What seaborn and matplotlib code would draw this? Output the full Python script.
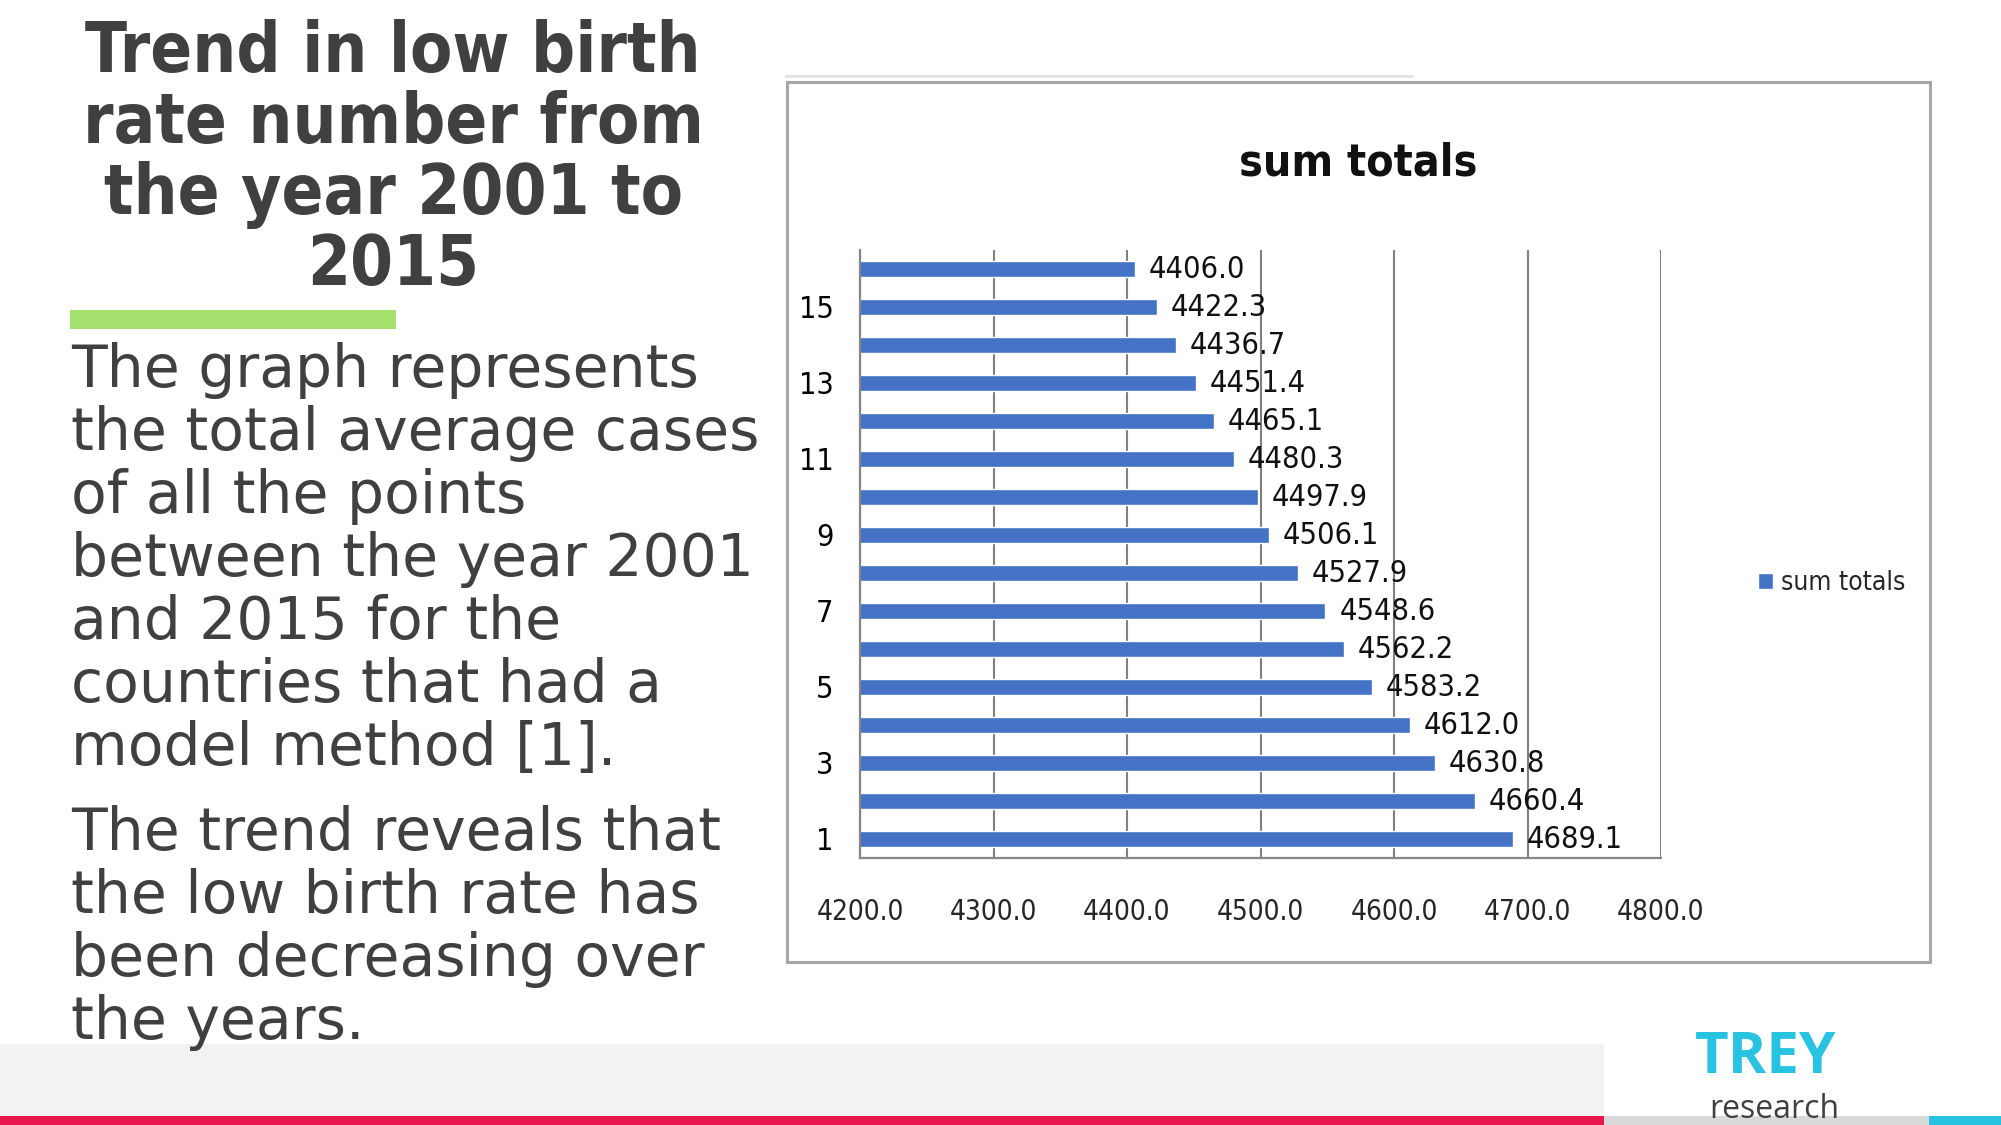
import pandas as pd
import seaborn as sns
import matplotlib.pyplot as plt
from matplotlib.patches import Rectangle

# Data (category 1 at the bottom, 16 at the top)
years = [str(i) for i in range(1, 17)]
totals = [4689.1, 4660.4, 4630.8, 4612.0, 4583.2, 4562.2, 4548.6, 4527.9,
          4506.1, 4497.9, 4480.3, 4465.1, 4451.4, 4436.7, 4422.3, 4406.0]
shown_labels = ["15", "13", "11", "9", "7", "5", "3", "1"]
x_ticks = [4200, 4300, 4400, 4500, 4600, 4700, 4800]

title_lines = ["Trend in low birth", "rate number from",
               "the year 2001 to", "2015"]
body_lines = ["The graph represents", "the total average cases",
              "of all the points", "between the year 2001",
              "and 2015 for the", "countries that had a",
              "model method [1]."]
body_lines2 = ["The trend reveals that", "the low birth rate has",
               "been decreasing over", "the years."]

sns.set_style("white")
plt.rcParams["font.family"] = ["DejaVu Sans"]
narrow = {"family": "DejaVu Sans", "stretch": "condensed"}

W, H = 2001, 1125
fig = plt.figure(figsize=(W / 100, H / 100), dpi=100)


def fx(x):
    return x / W


def fy(y):
    return 1 - y / H


def box(x0, y0, x1, y1, color):
    fig.patches.append(Rectangle((fx(x0), fy(y1)), (x1 - x0) / W, (y1 - y0) / H,
                                 transform=fig.transFigure, color=color, lw=0))


# slide decorations
box(0, 1044, 1604, 1117, "#f2f2f2")
box(0, 1116, 1604, 1125, "#e8174f")
box(1604, 1116, 1929, 1125, "#d9d9d9")
box(1929, 1116, 2001, 1125, "#27c3e0")
box(70, 310, 396, 329, "#a5e06d")
box(785, 75, 1414, 78, "#e3e3e3")

# chart frame
fig.patches.append(Rectangle((fx(787), fy(962)), (1930 - 787) / W, (962 - 82) / H,
                             transform=fig.transFigure, fill=False,
                             edgecolor="#a6a6a6", lw=2.2))

# slide title and body text
for i, line in enumerate(title_lines):
    fig.text(fx(393), fy(72 + 71 * i), line, ha="center", va="baseline",
             fontsize=49.5, fontweight="bold", fontstretch="condensed",
             color="#404040")
for i, line in enumerate(body_lines):
    fig.text(fx(71), fy(387 + 63 * i), line, ha="left", va="baseline",
             fontsize=42, color="#404040")
for i, line in enumerate(body_lines2):
    fig.text(fx(71), fy(850 + 63 * i), line, ha="left", va="baseline",
             fontsize=42, color="#404040")

# logo
fig.text(fx(1766), fy(1073), "TREY", ha="center", va="baseline", fontsize=42,
         fontweight="bold", color="#27c3e0", family=["Open Sans", "DejaVu Sans"])
fig.text(fx(1774), fy(1118), "research", ha="center", va="baseline",
         fontsize=23, color="#404040", family=["Open Sans", "DejaVu Sans"])

# chart
df = pd.DataFrame({"year": years, "total": totals})
order = years[::-1]

ax = fig.add_axes([fx(860), fy(858), 801 / W, 608 / H])
sns.barplot(data=df, x="total", y="year", order=order, color="#4472C4",
            saturation=1, width=0.42, errorbar=None, label="sum totals", ax=ax)

ax.set_xlim(4200, 4800)
ax.set_ylim(15.5, -0.5)
ax.set_xticks(x_ticks)
ax.set_xticklabels([f"{t:.1f}" for t in x_ticks], fontsize=20, **narrow)
ax.set_yticks([order.index(l) for l in shown_labels])
ax.set_yticklabels(shown_labels, fontsize=22, **narrow)
ax.set_yticks([i - 0.5 for i in range(17)], minor=True)
ax.tick_params(axis="y", which="major", length=0, pad=19, colors="#000000")
ax.tick_params(axis="y", which="minor", length=6, width=1.4, color="#868686")
ax.tick_params(axis="x", length=9, width=1.4, color="#868686", pad=20)
ax.set_xlabel("")
ax.set_ylabel("")
ax.grid(axis="x", color="#7f7f7f", lw=1.5, linestyle="-")
ax.set_axisbelow(True)
for side in ["top", "right"]:
    ax.spines[side].set_visible(False)
for side in ["left", "bottom"]:
    ax.spines[side].set_color("#868686")
    ax.spines[side].set_linewidth(1.6)

ax.bar_label(ax.containers[0], fmt="%.1f", padding=10, fontsize=22,
             color="#111111", **narrow)

ax.set_title("sum totals", x=(1358 - 860) / 801, pad=54, fontsize=32,
             fontweight="bold", color="#111111", **narrow)

ax.legend(loc="center left", bbox_to_anchor=(fx(1745), fy(583)),
          bbox_transform=fig.transFigure, frameon=False, handlelength=0.55,
          handleheight=0.55, handletextpad=0.3, borderpad=0,
          prop={"family": "DejaVu Sans", "stretch": "condensed", "size": 19})

fig.savefig("out.png", dpi=100)
